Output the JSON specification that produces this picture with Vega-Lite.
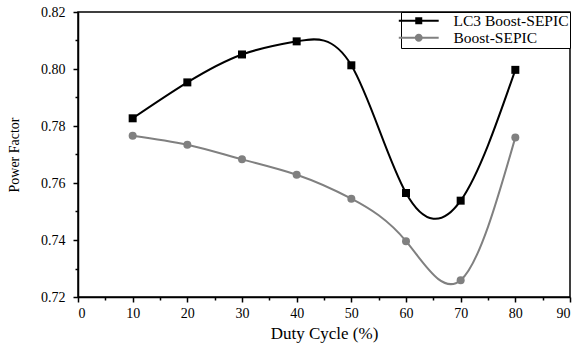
{
  "$schema": "https://vega.github.io/schema/vega-lite/v6.json",
  "width": 492,
  "height": 285,
  "autosize": {"type": "none"},
  "padding": {"left": 78, "top": 12, "right": 12, "bottom": 48},
  "config": {
    "font": "Liberation Serif, Times New Roman, serif",
    "view": {"stroke": "black", "strokeWidth": 1.5},
    "axis": {
      "domainColor": "black", "domainWidth": 1.5,
      "tickColor": "black", "tickWidth": 1.5,
      "labelColor": "black", "labelFontSize": 14, "labelFont": "Liberation Serif, Times New Roman, serif",
      "titleColor": "black", "titleFont": "Liberation Serif, Times New Roman, serif", "titleFontWeight": "normal",
      "grid": false
    },
    "legend": {"labelFont": "Liberation Serif, Times New Roman, serif"}
  },
  "data": {"values": [
    {"duty": 10, "pf": 0.7827, "series": "LC3 Boost-SEPIC"},
    {"duty": 20, "pf": 0.7953, "series": "LC3 Boost-SEPIC"},
    {"duty": 30, "pf": 0.8051, "series": "LC3 Boost-SEPIC"},
    {"duty": 40, "pf": 0.8097, "series": "LC3 Boost-SEPIC"},
    {"duty": 50, "pf": 0.8013, "series": "LC3 Boost-SEPIC"},
    {"duty": 60, "pf": 0.7565, "series": "LC3 Boost-SEPIC"},
    {"duty": 70, "pf": 0.7538, "series": "LC3 Boost-SEPIC"},
    {"duty": 80, "pf": 0.7997, "series": "LC3 Boost-SEPIC"},
    {"duty": 10, "pf": 0.7766, "series": "Boost-SEPIC"},
    {"duty": 20, "pf": 0.7734, "series": "Boost-SEPIC"},
    {"duty": 30, "pf": 0.7683, "series": "Boost-SEPIC"},
    {"duty": 40, "pf": 0.7629, "series": "Boost-SEPIC"},
    {"duty": 50, "pf": 0.7545, "series": "Boost-SEPIC"},
    {"duty": 60, "pf": 0.7396, "series": "Boost-SEPIC"},
    {"duty": 70, "pf": 0.7259, "series": "Boost-SEPIC"},
    {"duty": 80, "pf": 0.7760, "series": "Boost-SEPIC"}
  ]},
  "layer": [
    {
      "mark": {"type": "point", "filled": true, "opacity": 0},
      "encoding": {
        "x": {"field": "duty", "type": "quantitative", "axis": null,
          "scale": {"domain": [0, 90], "nice": false}},
        "y": {"field": "pf", "type": "quantitative", "axis": null,
          "scale": {"domain": [0.72, 0.82], "nice": false, "zero": false}},
        "color": {"field": "series", "type": "nominal",
          "scale": {"domain": ["LC3 Boost-SEPIC", "Boost-SEPIC"], "range": ["#000000", "#808080"]},
          "legend": {"title": null, "orient": "top-right", "offset": 0, "strokeColor": "black", "fillColor": "white", "padding": 1, "labelFontSize": 15.5, "labelColor": "black", "symbolSize": 196, "symbolOpacity": 1, "rowPadding": 0, "symbolOffset": 9, "labelOffset": 27, "symbolStrokeWidth": 0}},
        "shape": {"field": "series", "type": "nominal",
          "scale": {"domain": ["LC3 Boost-SEPIC", "Boost-SEPIC"], "range": ["M-2.85,-0.14H2.85V0.14H-2.85Z M-0.5,-0.5H0.5V0.5H-0.5Z", "M-2.85,-0.14H2.85V0.14H-2.85Z M-0.57,0A0.57,0.57 0 1,1 0.57,0A0.57,0.57 0 1,1 -0.57,0Z"]},
          "legend": {"title": null, "orient": "top-right", "offset": 0, "strokeColor": "black", "fillColor": "white", "padding": 1, "labelFontSize": 15.5, "labelColor": "black", "symbolSize": 196, "symbolOpacity": 1, "rowPadding": 0, "symbolOffset": 9, "labelOffset": 27, "symbolStrokeWidth": 0}}
      }
    },
    {
      "mark": {"type": "line", "interpolate": "natural", "strokeWidth": 2},
      "encoding": {
        "x": {"field": "duty", "type": "quantitative",
          "axis": {"orient": "bottom", "values": [0,10,20,30,40,50,60,70,80,90], "title": "Duty Cycle (%)", "titleFontSize": 17, "tickSize": 5, "labelPadding": 4, "titlePadding": 5}},
        "y": {"field": "pf", "type": "quantitative",
          "axis": {"orient": "left", "values": [0.72,0.74,0.76,0.78,0.80,0.82], "format": ".2f", "title": "Power Factor", "titleFontSize": 14, "tickSize": 5, "labelPadding": 8, "titlePadding": 19}},
        "color": {"field": "series", "type": "nominal"}
      }
    },
    {
      "mark": {"type": "point", "filled": true, "size": 64, "opacity": 1},
      "encoding": {
        "x": {"field": "duty", "type": "quantitative", "axis": null},
        "y": {"field": "pf", "type": "quantitative", "axis": null},
        "color": {"field": "series", "type": "nominal"},
        "shape": {"condition": {"test": "datum.series === 'LC3 Boost-SEPIC'", "value": "square"}, "value": "circle"}
      }
    },
    {
      "mark": {"type": "point", "opacity": 0},
      "encoding": {
        "x": {"field": "duty", "type": "quantitative",
          "axis": {"orient": "bottom", "values": [5,15,25,35,45,55,65,75,85], "labels": false, "domain": false, "tickSize": 3, "title": null}},
        "y": {"field": "pf", "type": "quantitative",
          "axis": {"orient": "left", "values": [0.73,0.75,0.77,0.79,0.81], "labels": false, "domain": false, "tickSize": 3, "title": null}}
      }
    }
  ],
  "resolve": {"axis": {"x": "independent", "y": "independent"}}
}
